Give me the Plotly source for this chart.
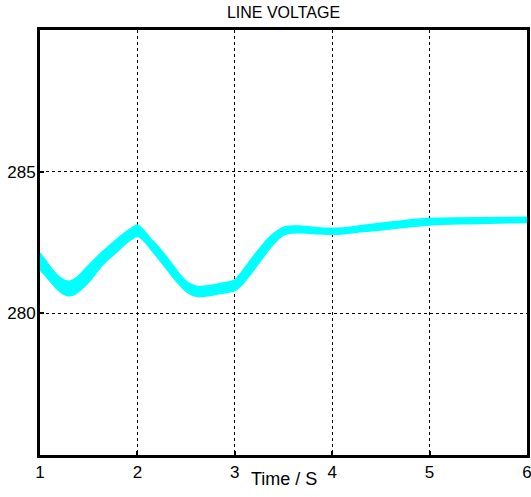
import plotly.graph_objects as go

time_s = [1.00, 1.05, 1.10, 1.15, 1.20, 1.25, 1.30, 1.35, 1.40, 1.50, 1.64, 1.80, 1.90, 1.96, 2.00,
          2.06, 2.13, 2.20, 2.27, 2.36, 2.44, 2.52, 2.61, 2.75, 2.85, 2.95, 3.00,
          3.07, 3.14, 3.27, 3.36, 3.44, 3.50, 3.55, 3.65, 3.80, 3.95, 4.10,
          4.25, 4.50, 4.75, 5.00, 5.50, 6.00]
voltage_upper = [282.12, 281.90, 281.66, 281.45, 281.28, 281.17, 281.13, 281.20, 281.33, 281.70, 282.17, 282.65, 282.92, 283.05, 283.12,
                 282.95, 282.66, 282.40, 282.12, 281.72, 281.35, 281.08, 280.95, 280.98, 281.05, 281.12, 281.18,
                 281.45, 281.78, 282.35, 282.70, 282.92, 283.03, 283.07, 283.08, 283.04, 283.00, 283.01,
                 283.07, 283.18, 283.28, 283.35, 283.37, 283.39]
voltage_lower = [281.53, 281.35, 281.15, 280.95, 280.78, 280.66, 280.62, 280.66, 280.78, 281.10, 281.70, 282.20, 282.52, 282.66, 282.72,
                 282.58, 282.30, 282.00, 281.70, 281.30, 280.98, 280.72, 280.60, 280.63, 280.70, 280.76, 280.80,
                 281.00, 281.29, 281.88, 282.30, 282.60, 282.76, 282.82, 282.84, 282.82, 282.79, 282.80,
                 282.86, 282.94, 283.04, 283.12, 283.17, 283.21]
x_ticks = [1, 2, 3, 4, 5, 6]
y_ticks = [280, 285]

FONT = "Liberation Sans, Arial, sans-serif"
CYAN = "#00FFFF"

fig = go.Figure()
fig.add_trace(go.Scatter(x=time_s, y=voltage_lower, mode="lines",
                         line=dict(color=CYAN, width=1.5, shape="spline", smoothing=1.0),
                         showlegend=False, hoverinfo="skip"))
fig.add_trace(go.Scatter(x=time_s, y=voltage_upper, mode="lines", fill="tonexty",
                         fillcolor=CYAN,
                         line=dict(color=CYAN, width=1.5, shape="spline", smoothing=1.0),
                         showlegend=False, hoverinfo="skip"))

fig.update_layout(
    width=531, height=497,
    margin=dict(l=40, r=4, t=30, b=42),
    paper_bgcolor="white", plot_bgcolor="white",
    font=dict(family=FONT, size=16, color="black"),
    title=dict(text="LINE VOLTAGE", x=0.5, xref="paper", xanchor="center",
               y=1 - 12 / 497, yref="container", yanchor="middle",
               font=dict(family=FONT, size=16, color="black")),
    annotations=[dict(text="Time / S", x=0.5, xref="paper", y=0, yref="paper",
                      xanchor="center", yanchor="middle", yshift=-24, showarrow=False,
                      font=dict(family=FONT, size=18, color="black"))],
)
fig.update_xaxes(range=[1, 6], tickvals=x_ticks, ticktext=[str(v) for v in x_ticks],
                 showline=True, linecolor="black", linewidth=3, mirror=True,
                 ticks="inside", ticklen=4, tickwidth=2, tickcolor="black",
                 showgrid=True, gridcolor="black", griddash="dot", gridwidth=1,
                 zeroline=False, automargin=False, ticklabeloverflow="allow",
                 tickfont=dict(family=FONT, size=17))
fig.update_yaxes(range=[275, 290], tickvals=y_ticks, ticktext=[str(v) for v in y_ticks],
                 showline=True, linecolor="black", linewidth=3, mirror=True,
                 ticks="inside", ticklen=4, tickwidth=2, tickcolor="black",
                 showgrid=True, gridcolor="black", griddash="dot", gridwidth=1,
                 zeroline=False, automargin=False, ticklabeloverflow="allow",
                 ticklabelstandoff=-2,
                 tickfont=dict(family=FONT, size=17))

fig.write_html("out.html")
